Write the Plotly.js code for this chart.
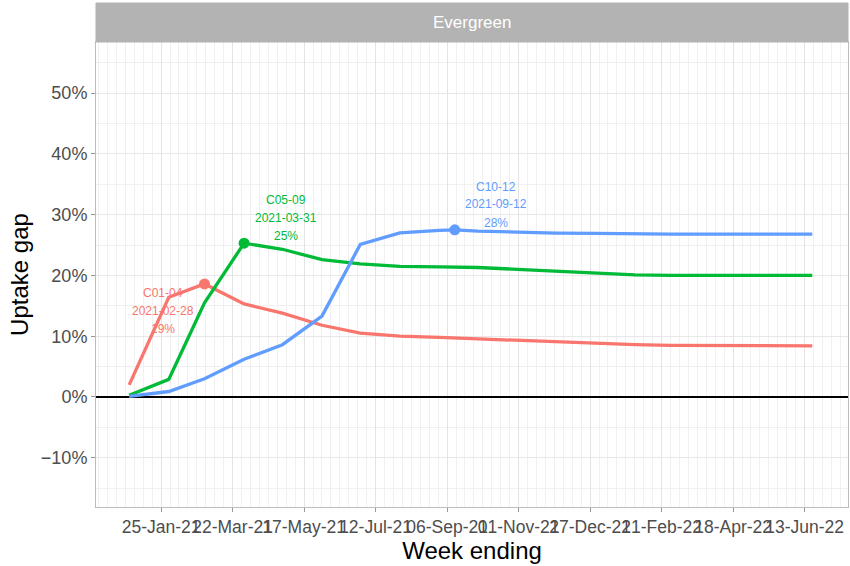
<!DOCTYPE html>
<html>
<head>
<meta charset="utf-8">
<script src="https://cdn.plot.ly/plotly-3.0.1.min.js"></script>
<style>html,body{margin:0;padding:0;background:#fff;}#chart{width:850px;height:566px;}</style>
</head>
<body>
<div id="chart"></div>
<script>
// Week ending dates (shared by all series)
var weekEnding = ["2020-12-31","2021-01-31","2021-02-28","2021-03-31","2021-04-30","2021-05-31","2021-06-30","2021-07-31","2021-08-31","2021-09-12","2021-09-30","2021-10-31","2021-11-30","2021-12-31","2022-01-31","2022-02-28","2022-03-31","2022-04-30","2022-05-31","2022-06-19"];
var seriesNames = ["C01-04","C05-09","C10-12"];
var seriesColors = ["#F8766D","#00BA38","#619CFF"];
var gapC0104 = [0.020,0.164,0.186,0.153,0.138,0.118,0.105,0.100,0.098,0.097,0.096,0.093,0.091,0.089,0.086,0.085,0.0845,0.084,0.084,0.084];
var gapC0509 = [0.003,0.029,0.155,0.253,0.243,0.226,0.219,0.215,0.214,0.2135,0.213,0.210,0.207,0.204,0.201,0.200,0.200,0.200,0.200,0.200];
var gapC1012 = [0.001,0.009,0.030,0.062,0.086,0.133,0.251,0.270,0.274,0.275,0.273,0.271,0.2695,0.269,0.268,0.268,0.268,0.268,0.268,0.268];
var yTickVals = [-0.1,0,0.1,0.2,0.3,0.4,0.5];
var panelTitle = "Evergreen";
var xTitle = "Week ending";
var yTitle = "Uptake gap";

var allSeries = [gapC0104, gapC0509, gapC1012];
// label offsets (pixels) relative to each peak: [dx, dy line1, dy line2, dy line3]
var labelOffsets = [[-42, -9, -27, -45],[42, 43, 25, 7],[41, 43, 25.5, 7]];

var traces = [];
var annotations = [];
allSeries.forEach(function(vals, i){
  traces.push({x: weekEnding, y: vals, type:'scatter', mode:'lines', name: seriesNames[i],
    line:{color: seriesColors[i], width:3.3}, hoverinfo:'skip', showlegend:false});
  var k = 0;
  for (var j=1;j<vals.length;j++) if (vals[j] > vals[k]) k = j;
  traces.push({x:[weekEnding[k]], y:[vals[k]], type:'scatter', mode:'markers',
    marker:{color: seriesColors[i], size:11}, hoverinfo:'skip', showlegend:false});
  var lines = [seriesNames[i], weekEnding[k], Math.round(vals[k]*100)+'%'];
  var off = labelOffsets[i];
  lines.forEach(function(t, li){
    annotations.push({x: weekEnding[k], y: vals[k], xref:'x', yref:'y', text:t, showarrow:false,
      xshift: off[0], yshift: off[li+1], font:{family:'Liberation Sans, Arial, sans-serif', size:12, color: seriesColors[i]},
      xanchor:'center', yanchor:'middle'});
  });
});

// strip label
annotations.push({xref:'paper', yref:'paper', x:0.5, y:1+19.5/465, text: panelTitle, showarrow:false,
  xanchor:'center', yanchor:'middle', font:{family:'Liberation Sans, Arial, sans-serif', size:17, color:'#FFFFFF'}});

var DAY = 86400000;
var layout = {
  width:850, height:566,
  margin:{l:96, r:2, t:42, b:59, pad:0},
  paper_bgcolor:'#FFFFFF', plot_bgcolor:'#FFFFFF',
  font:{family:'Liberation Sans, Arial, sans-serif', color:'#4D4D4D'},
  showlegend:false,
  xaxis:{type:'date', range:['2020-12-05','2022-07-17'],
    tickmode:'linear', tick0:'2021-01-25', dtick:56*DAY, tickformat:'%d-%b-%y', tickangle:0,
    ticks:'outside', ticklen:4, tickcolor:'#999999', tickwidth:1,
    tickfont:{size:17.5, color:'#4D4D4D'},
    showgrid:true, gridcolor:'#E3E3E3', gridwidth:1,
    minor:{tickmode:'linear', tick0:'2021-01-25', dtick:7*DAY, showgrid:true, gridcolor:'#F0F0F0', gridwidth:1, ticks:''},
    showline:true, mirror:true, linecolor:'#BDBDBD', linewidth:1,
    zeroline:false, automargin:false,
    title:{text:xTitle, font:{size:24, color:'#000000'}, standoff:6}},
  yaxis:{range:[-0.181, 0.584], tickmode:'array', tickvals:yTickVals, tickformat:'.0%',
    ticks:'outside', ticklen:4, tickcolor:'#999999', tickwidth:1,
    tickfont:{size:18, color:'#4D4D4D'},
    showgrid:true, gridcolor:'#E8E8E8', gridwidth:1,
    minor:{tickmode:'linear', tick0:0, dtick:0.05, showgrid:true, gridcolor:'#F0F0F0', gridwidth:1, ticks:''},
    showline:true, mirror:true, linecolor:'#BDBDBD', linewidth:1,
    zeroline:true, zerolinecolor:'#000000', zerolinewidth:2, automargin:false,
    title:{text:yTitle, font:{size:24, color:'#000000'}, standoff:5}},
  shapes:[{type:'rect', xref:'paper', yref:'paper', x0:0, x1:1, y0:1, y1:1+39/465,
    fillcolor:'#B3B3B3', line:{color:'#B3B3B3', width:1}, layer:'above'}],
  annotations: annotations
};
Plotly.newPlot('chart', traces, layout, {displayModeBar:false, staticPlot:true});
</script>
</body>
</html>
